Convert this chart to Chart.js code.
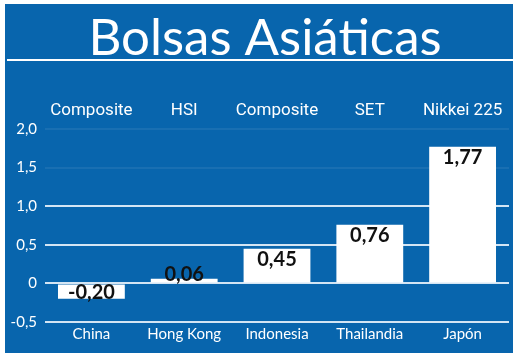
<!DOCTYPE html>
<html>
<head>
<meta charset="utf-8">
<script src="https://cdn.jsdelivr.net/npm/chart.js@4"></script>
<style>
  body { margin: 0; background: #fff; }
  #wrap { width: 520px; height: 359px; }
</style>
</head>
<body>
<div id="wrap"><canvas id="chart"></canvas></div>
<script>
const countries = ['China', 'Hong Kong', 'Indonesia', 'Thailandia', 'Japón']
const indexNames = ['Composite', 'HSI', 'Composite', 'SET', 'Nikkei 225']
const changes = [-0.20, 0.06, 0.45, 0.76, 1.77]
const chartTitle = 'Bolsas Asiáticas'

const BLUE = '#0865ad'

// blue panel, title and the white rule under it
const panel = {
    id: 'panel',
    beforeDraw(chart) {
        const c = chart.ctx
        c.save()
        c.fillStyle = BLUE
        c.fillRect(5, 4, 508, 349)
        c.fillStyle = '#fff'
        c.font = '51px Lato'
        c.textAlign = 'center'
        c.textBaseline = 'alphabetic'
        c.fillText(chartTitle, 265, 55)
        c.fillRect(7, 59, 506, 2)
        c.restore()
    }
}

// value labels inside the bars
const valueLabels = {
    id: 'valueLabels',
    afterDatasetsDraw(chart) {
        const c = chart.ctx
        const meta = chart.getDatasetMeta(0)
        const zero = chart.scales.y.getPixelForValue(0)
        c.save()
        c.fillStyle = '#111'
        c.font = 'bold 20px Lato'
        c.textAlign = 'center'
        c.textBaseline = 'middle'
        meta.data.forEach((bar, i) => {
            const v = changes[i]
            let y
            if (v < 0) y = zero + 9
            else y = Math.min(bar.y + 11, zero - 9)
            c.fillText(v.toFixed(2).replace('.', ','), bar.x, y)
        })
        c.restore()
    }
}

const flatTicks = { minRotation: 0, maxRotation: 0, autoSkip: false }

const ctx = document.getElementById('chart').getContext('2d')
new Chart(ctx, {
    type: 'bar',
    data: {
        labels: countries,
        datasets: [{
            data: changes,
            backgroundColor: '#fff',
            borderWidth: 0,
            barPercentage: 0.72,
            categoryPercentage: 1.0
        }]
    },
    options: {
        responsive: true,
        maintainAspectRatio: false,
        animation: false,
        layout: { padding: { left: 0, right: 11, top: 0, bottom: 0 } },
        scales: {
            y: {
                min: -0.5,
                max: 2.0,
                afterFit(s) { s.width = 45 },
                border: { display: false },
                grid: {
                    drawTicks: false,
                    lineWidth: 2,
                    color: c => c.tick && c.tick.value > 1 ? 'rgba(255,255,255,0.07)' : '#d3e5f4'
                },
                ticks: {
                    stepSize: 0.5,
                    padding: 8,
                    color: '#fff',
                    font: { family: 'Lato', size: 15 },
                    callback: v => v === 0 ? '0' : v.toFixed(1).replace('.', ',')
                }
            },
            x: {
                position: 'bottom',
                afterFit(s) { s.height = 37 },
                border: { display: false },
                grid: { display: false, drawTicks: false },
                ticks: Object.assign({
                    padding: 3,
                    color: '#fff',
                    font: { family: 'Lato', size: 15 }
                }, flatTicks)
            },
            x2: {
                type: 'category',
                labels: indexNames,
                position: 'top',
                afterFit(s) { s.height = 129 },
                border: { display: false },
                grid: { display: false, drawTicks: false },
                ticks: Object.assign({
                    padding: 8,
                    color: '#fff',
                    font: { family: 'Roboto', size: 17 }
                }, flatTicks)
            }
        },
        plugins: {
            legend: { display: false },
            tooltip: { enabled: false }
        }
    },
    plugins: [panel, valueLabels]
})
</script>
</body>
</html>
